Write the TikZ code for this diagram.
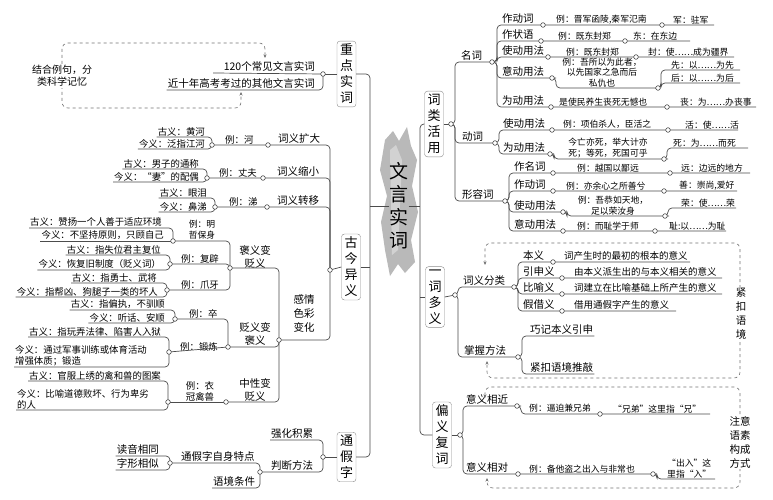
\documentclass[tikz,border=0pt]{standalone}
\usepackage{fontspec}
\setmainfont{Noto Sans CJK SC}
\usetikzlibrary{arrows.meta}
\begin{document}
\begin{tikzpicture}[x=1pt,y=-1pt,
 ln/.style={draw=black!70,line width=0.7pt,rounded corners=4pt},
 lbl/.style={font=\fontsize{10.5}{12}\selectfont,inner sep=1pt,anchor=south west},
 lbs/.style={font=\fontsize{9.5}{11}\selectfont,inner sep=1pt,anchor=south west},
 exm/.style={font=\fontsize{8.8}{10.5}\selectfont,inner sep=1pt,anchor=south west},
 exl/.style={font=\fontsize{9.4}{11}\selectfont,inner sep=1pt,anchor=south west},
 exe/.style={exl,anchor=south east},
 exc/.style={exm,anchor=south,align=center},
 vbox/.style={draw=black!45,rounded corners=3pt,fill=white,font=\fontsize{13}{16}\selectfont,align=center,inner sep=3pt},
 dsh/.style={draw=black!55,dashed,line width=0.6pt,rounded corners=6pt},
 arr/.style={-{Stealth[length=3.5pt,width=3pt]}}]
\useasboundingbox[fill=white] (0,0) rectangle (773,500);
% centre
\fill[gray!55] (385,140) -- (393,131) -- (399,141) -- (407,127) -- (411,146) -- (417,160) -- (412,186) -- (418,212) -- (411,240) -- (415,262) -- (405,273) -- (398,264) -- (390,276) -- (385,250) -- (381,222) -- (387,196) -- (380,170) -- cycle;
\fill[gray!35] (390,150) -- (396,145) -- (402,160) -- (398,250) -- (392,255) -- cycle;
\node[font=\fontsize{19}{23}\selectfont,align=center,inner sep=0pt] (ct) at (399,206) {文\\言\\实\\词};
% boxes
\node[vbox] (zq) at (346.5,74) {重\\点\\实\\词};
\node[vbox] (gj) at (351,267) {古\\今\\异\\义};
\node[vbox] (tj) at (346.5,457) {通\\假\\字};
\node[vbox] (ch) at (434,124) {词\\类\\活\\用};
\node[vbox] (yc) at (435,297) {一\\词\\多\\义};
\node[vbox] (pf) at (442,435) {偏\\义\\复\\词};
% trunks
\draw[ln] (ct.west) -- (370,206);
\draw[ln] (zq.east) -| (370,457) -- (tj.east);
\draw[ln] (gj.east) -- (370,267);
\draw[ln] (ct.east) -- (420,206);
\draw[ln] (ch.west) -| (420,435) -- (pf.west);
\draw[ln] (yc.west) -- (420,297);
% dots
\foreach \n/\x/\y in {zd/323/74,gjd/330/270,dA1/268/145,dA2/212/145,dB1/263/178,dB2/207/178,dC1/267/207,dC2/215/207,
 dE/279/340,dF/230/268,dG/228/347,dH/226/402,dF1/173/241,dF2/170/264,dF3/167/290,dG1/175/319,dG2/169/352,dH1/168/402,
 tjd/323/457,dP/260/472,dQ/170/463,
 cl/451/124,m/492/62,dv/495/143,dj/505/201,
 a1/543/25,a2/662/25,a3/541/41,a4/625/41,a5/548/57,a6/636/57,a7/552/78,a8/658/88,a9/551/107,a10/667/107,
 b1/552/130,b2/668/130,b3/550/154,b4/664/159,
 c1/553/173,c2/670/173,c3/553/191,c4/664/191,c5/563/212,c6/665/216,c7/563/231,c8/655/231,
 yd/455/295,ye/514/287,yf/518/357,f1/553/262,f2/562/278,f3/562/294,f4/562/311,
 pd/460/435,g1/517/406,g2/600/414,g3/518/474,g4/653/474}
 \coordinate (\n) at (\x,\y);
% ===== 重点实词
\node[lbl,anchor=south east] (t120) at (316,73) {120个常见文言实词};
\node[lbl,anchor=south east] (tjn) at (316,90) {近十年高考考过的其他文言实词};
\draw[ln] (213,73) -- (zd);
\draw[ln] (tjn.south west) -| (zd);
\draw[ln] (zd) -- (zq.west);
\draw[dsh,arr] (62,70) |- (265,43) -- (265,58);
\draw[dsh,arr] (62,80) |- (241,108) -- (241,92);
\node[font=\fontsize{10}{12}\selectfont,align=center,fill=white,inner sep=1pt] (jh) at (62,76) {结合例句，分\\类科学记忆};
% ===== 古今异义
\draw[ln] (gjd) -- (gj.west);
\node[lbl] (ky) at (277,145) {词义扩大};
\node[exl] at (224,145) {例：河};
\draw[ln] (dA2) -| (gjd);
\node[exe] (ky1) at (206,137) {古义：黄河};
\node[exe] (ky2) at (206,149) {今义：泛指江河};
\draw[ln] (ky1.south west) -| (dA2);
\draw[ln] (ky2.south west) -| (dA2);
\node[lbl] (sx) at (276,178) {词义缩小};
\node[exl] at (218,178) {例：丈夫};
\draw[ln] (dB2) -| (gjd);
\node[exe] (sx1) at (200,169) {古义：男子的通称};
\node[exe] (sx2) at (200,182) {今义：“妻”的配偶};
\draw[ln] (sx1.south west) -| (dB2);
\draw[ln] (sx2.south west) -| (dB2);
\node[lbl] (zy) at (276,207) {词义转移};
\node[exl] at (228,207) {例：涕};
\draw[ln] (dC2) -| (gjd);
\node[exe] (zy1) at (208,198) {古义：眼泪};
\node[exe] (zy2) at (208,212) {今义：鼻涕};
\draw[ln] (zy1.south west) -| (dC2);
\draw[ln] (zy2.south west) -| (dC2);
\node[font=\fontsize{10.5}{14}\selectfont,align=center] (gq) at (304,314) {感情\\色彩\\变化};
\draw[ln] (dE) -| (gjd);
\node[font=\fontsize{10.5}{12.5}\selectfont,align=center] (bb) at (255,257) {褒义变\\贬义};
\node[font=\fontsize{10.5}{12.5}\selectfont,align=center] (bp) at (255,334) {贬义变\\褒义};
\node[font=\fontsize{10.5}{12.5}\selectfont,align=center] (zx) at (255,390) {中性变\\贬义};
\draw[ln] (dF) -| (dE);
\draw[ln] (dG) -| (dE);
\draw[ln] (dH) -| (dE);
% 褒义变贬义
\node[exc] at (202,240) {例：明\\哲保身};
\draw[ln] (dF1) -| (dF);
\node[exe] (e1) at (163,228) {古义：赞扬一个人善于适应环境};
\node[exe] (e2) at (165,241) {今义：不坚持原则，只顾自己};
\draw[ln] (e1.south west) -| (dF1);
\draw[ln] (e2.south west) -- (dF1);
\node[exl] at (180,264) {例：复辟};
\draw[ln] (dF2) -| (dF);
\node[exe] (e3) at (162,255) {古义：指失位君主复位};
\node[exe] (e4) at (162,270) {今义：恢复旧制度（贬义词）};
\draw[ln] (e3.south west) -| (dF2);
\draw[ln] (e4.south west) -| (dF2);
\node[exl] at (180,290) {例：爪牙};
\draw[ln] (dF3) -| (dF);
\node[exe] (e5) at (158,283) {古义：指勇士、武将};
\node[exe] (e6) at (159,297) {今义：指帮凶、狗腿子一类的坏人};
\draw[ln] (e5.south west) -| (dF3);
\draw[ln] (e6.south west) -| (dF3);
% 贬义变褒义
\node[exl] at (188,319) {例：卒};
\draw[ln] (dG1) -| (dG);
\node[exe] (e7) at (166,310) {古义：指偏执，不驯顺};
\node[exe] (e8) at (166,323) {今义：听话、安顺};
\draw[ln] (e7.south west) -| (dG1);
\draw[ln] (e8.south west) -| (dG1);
\node[exl] at (179,352) {例：锻炼};
\draw[ln] (dG2) -- (dG);
\node[exe] (e9) at (162,337) {古义：指玩弄法律、陷害人入狱};
\node[exl,align=left] (e10) at (14,367) {今义：通过军事训练或体育活动\\增强体质；锻造};
\draw[ln] (e9.south west) -| (dG2);
\draw[ln] (e10.south west) -| (dG2);
% 中性变贬义
\node[exc,font=\fontsize{9.4}{11}\selectfont] at (200,402) {例：衣\\冠禽兽};
\draw[ln] (dH1) -- (dH);
\node[exe] (e11) at (162,381) {古义：官服上绣的禽和兽的图案};
\node[exl,align=left] (e12) at (16,410) {今义：比喻道德败坏、行为卑劣\\的人};
\draw[ln] (e11.south west) -| (dH1);
\draw[ln] (e12.south west) -| (dH1);
% ===== 通假字
\draw[ln] (tjd) -- (tj.west);
\node[lbl] (qh) at (270,440) {强化积累};
\draw[ln] (qh.south west) -| (tjd);
\node[lbl] (pd1) at (270,472) {判断方法};
\draw[ln] (dP) -| (tjd);
\node[lbl] (zs) at (180,463) {通假字自身特点};
\draw[ln] (dQ) -| (dP);
\node[lbl] (yjt) at (212,488) {语境条件};
\draw[ln] (yjt.south west) -| (dP);
\node[lbl,anchor=south east] (dy) at (160,456) {读音相同};
\node[lbl,anchor=south east] (zxs) at (160,470) {字形相似};
\draw[ln] (dy.south west) -| (dQ);
\draw[ln] (zxs.south west) -| (dQ);
% ===== 词类活用
\draw[ln] (ch.east) -- (cl);
\node[lbl] (mc) at (460,62) {名词};
\node[lbl] (dc) at (461,143) {动词};
\node[lbl] (xr) at (461,201) {形容词};
\draw[ln] (cl) -- (455,124) |- (m);
\draw[ln] (cl) -- (455,124) |- (dv);
\draw[ln] (cl) -- (455,124) |- (dj);
% 名词
\draw[ln] (m) -- (497,62) |- (a1) -- (a2) -- (714,25);
\node[lbl] at (501,25) {作动词};
\node[exm] at (555,25) {例：晋军函陵,秦军氾南};
\node[exm] at (672,25) {军：驻军};
\draw[ln] (m) -- (497,62) |- (a3) -- (a4) -- (690,41);
\node[lbl] at (501,41) {作状语};
\node[exm] at (557,41) {例：既东封郑};
\node[exm] at (632,41) {东：在东边};
\draw[ln] (m) -- (497,62) |- (a5) -- (a6) -- (734,57);
\node[lbl] at (501,57) {使动用法};
\node[exm] at (565,57) {例：既东封郑};
\node[exm] at (647,57) {封：使……成为疆界};
\draw[ln] (m) -- (497,62) |- (a7) -- (556,78) |- (a8);
\node[lbl] at (501,78) {意动用法};
\node[exc,font=\fontsize{8.8}{10.2}\selectfont] at (602,88) {例：吾所以为此者，\\以先国家之急而后\\私仇也};
\draw[ln] (a8) -- (661,88) |- (740,70);
\draw[ln] (a8) -- (661,88) |- (740,83);
\node[exm] at (670,70) {先：以……为先};
\node[exm] at (670,83) {后：以……为后};
\draw[ln] (m) -- (497,62) |- (a9) -- (a10) -- (756,107);
\node[lbl] at (501,107) {为动用法};
\node[exm] at (558,107) {是使民养生丧死无憾也};
\node[exm] at (679,107) {丧：为……办丧事};
% 动词
\draw[ln] (dv) -- (499,143) |- (b1) -- (b2) -- (738,130);
\node[lbl] at (502,130) {使动用法};
\node[exm] at (562,130) {例：项伯杀人，臣活之};
\node[exm] at (684,130) {活：使……活};
\draw[ln] (dv) -- (499,143) |- (b3) -- (554,154) |- (b4) -- (667,159) |- (748,148);
\node[lbl] at (502,154) {为动用法};
\node[exc] at (608,159) {今亡亦死，举大计亦\\死；等死，死国可乎};
\node[exm] at (672,148) {死：为……而死};
% 形容词
\draw[ln] (dj) -- (509,201) |- (c1) -- (c2) -- (750,173);
\node[lbl] at (513,173) {作名词};
\node[exm] at (576,173) {例：越国以鄙远};
\node[exm] at (680,173) {远：边远的地方};
\draw[ln] (dj) -- (509,201) |- (c3) -- (c4) -- (737,191);
\node[lbl] at (513,191) {作动词};
\node[exm] at (565,191) {例：亦余心之所善兮};
\node[exm] at (678,191) {善：崇尚,爱好};
\draw[ln] (dj) -- (509,201) |- (c5) -- (567,212) |- (c6) -- (668,216) |- (736,208);
\node[lbl] at (513,212) {使动用法};
\node[exc] at (613,216) {例：吾恭如天地，\\足以荣汝身};
\node[exm] at (680,208) {荣：使……荣};
\draw[ln] (dj) -- (509,201) |- (c7) -- (c8) -- (726,231);
\node[lbl] at (513,231) {意动用法};
\node[exm] at (576,231) {例：而耻学于师};
\node[exm] at (668,231) {耻:以……为耻};
% ===== 一词多义
\draw[ln] (yc.east) -- (yd);
\node[lbl] at (462,287) {词义分类};
\node[lbl] at (463,357) {掌握方法};
\draw[ln] (yd) -- (458,295) |- (ye);
\draw[ln] (yd) -- (458,295) |- (yf);
\draw[ln] (ye) -- (518,287) |- (f1) -- (690,262);
\draw[ln] (ye) -- (518,287) |- (f2) -- (722,278);
\draw[ln] (ye) -- (518,287) |- (f3) -- (722,294);
\draw[ln] (ye) -- (518,287) |- (f4) -- (676,311);
\node[lbl] at (522,262) {本义};
\node[lbl] at (522,278) {引申义};
\node[lbl] at (522,294) {比喻义};
\node[lbl] at (522,311) {假借义};
\node[lbs] at (563,262) {词产生时的最初的根本的意义};
\node[lbs] at (573,278) {由本义派生出的与本义相关的意义};
\node[lbs] at (573,294) {词建立在比喻基础上所产生的意义};
\node[lbs] at (573,311) {借用通假字产生的意义};
\node[lbl] (qj) at (529,336) {巧记本义引申};
\node[lbl] (jk) at (529,374) {紧扣语境推敲};
\draw[ln] (yf) -- (522,357) |- (qj.south east);
\draw[ln] (yf) -- (522,357) |- (jk.south east);
\draw[dsh,arr] (740,300) |- (485,243) -- (485,265);
\draw[dsh,arr] (740,330) |- (487,378) -- (487,361);
\node[font=\fontsize{10.5}{14}\selectfont,align=center,fill=white,inner sep=1pt] at (741,314) {紧\\扣\\语\\境};
% ===== 偏义复词
\draw[ln] (pf.east) -- (pd);
\node[lbl] (ps) at (465,406) {意义相近};
\node[lbl] (pr) at (465,474) {意义相对};
\draw[ln] (pd) -- (463,435) |- (g1) -- (521,406) |- (g2) -- (710,414);
\draw[ln] (pd) -- (463,435) |- (g3) -- (g4) -- (657,474) |- (715,479);
\node[exm] at (528,413) {例：逼迫兼兄弟};
\node[exm] at (612,414) {“兄弟”这里指“兄”};
\node[exm] at (528,474) {例：备他盗之出入与非常也};
\node[exm,align=center] at (666,479) {“出入”这\\里指“入”};
\draw[dsh,arr] (740,420) |- (485,387) -- (485,398);
\draw[dsh,arr] (740,462) |- (487,488) -- (487,478);
\node[font=\fontsize{10.5}{14}\selectfont,align=center,fill=white,inner sep=1pt] at (740,442) {注意\\语素\\构成\\方式};
% dot circles
\foreach \n in {zd,gjd,dA1,dA2,dB1,dB2,dC1,dC2,dE,dF,dG,dH,dF1,dF2,dF3,dG1,dG2,dH1,tjd,dP,dQ,cl,m,dv,dj,a1,a2,a3,a4,a5,a6,a7,a8,a9,a10,b1,b2,b3,b4,c1,c2,c3,c4,c5,c6,c7,c8,yd,ye,yf,f1,f2,f3,f4,pd,g1,g2,g3,g4}
 \filldraw[fill=white,draw=black!70,line width=0.6pt] (\n) circle (2.3pt);
\end{tikzpicture}
\end{document}
